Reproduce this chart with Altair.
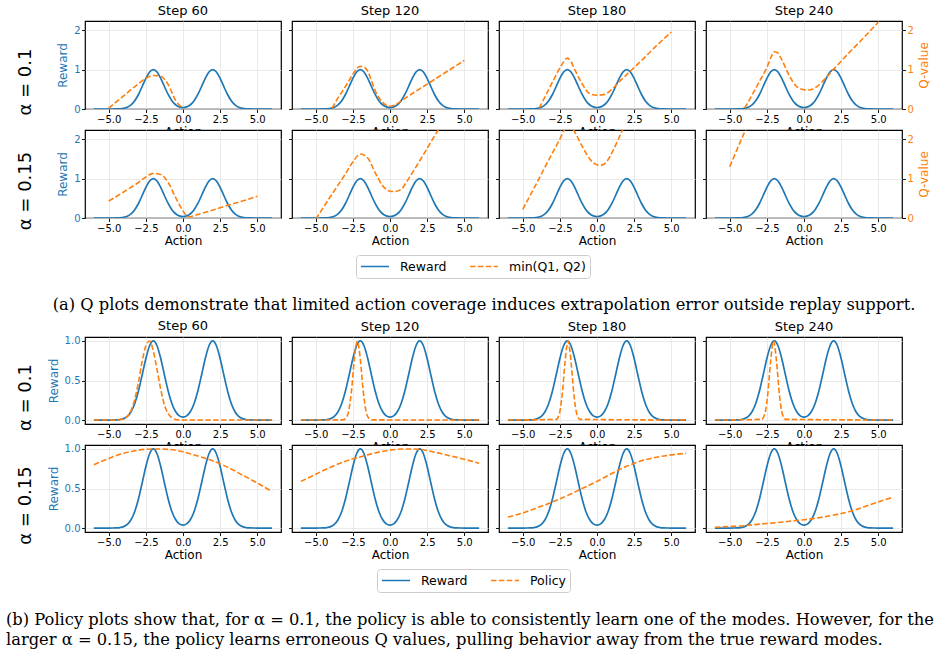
import altair as alt
import pandas as pd

# ---------------- data ----------------
steps = ["Step 60", "Step 120", "Step 180", "Step 240"]
alpha_labels = ["α = 0.1", "α = 0.15"]
legend_a = ["Reward", "min(Q1, Q2)"]
legend_b = ["Reward", "Policy"]
caption_a = ("(a) Q plots demonstrate that limited action coverage induces "
             "extrapolation error outside replay support.")
caption_b = ("(b) Policy plots show that, for α = 0.1, the policy is able to consistently "
             "learn one of the modes. However, for the\nlarger α = 0.15, the policy learns "
             "erroneous Q values, pulling behavior away from the true reward modes.")

x_ticks = [-5, -2.5, 0, 2.5, 5]
q_ticks = [0, 1, 2]
p_ticks = [0, 0.5, 1.0]

reward_x = [-6.0, -5.75, -5.5, -5.25, -5.0, -4.75, -4.5, -4.25,
            -4.0, -3.75, -3.5, -3.25, -3.0, -2.75, -2.5, -2.25,
            -2.0, -1.75, -1.5, -1.25, -1.0, -0.75, -0.5, -0.25,
            0.0,
            0.25, 0.5, 0.75, 1.0, 1.25, 1.5, 1.75, 2.0,
            2.25, 2.5, 2.75, 3.0, 3.25, 3.5, 3.75, 4.0,
            4.25, 4.5, 4.75, 5.0, 5.25, 5.5, 5.75, 6.0]
reward_y = [0, 0, 0, 0, 0.0001, 0.0005, 0.0019, 0.0063,
            0.0183, 0.0468, 0.1054, 0.2096, 0.3679, 0.5698, 0.7788, 0.9394,
            1.0, 0.9394, 0.7788, 0.5698, 0.368, 0.2101, 0.1073, 0.0531,
            0.0366,
            0.0531, 0.1073, 0.2101, 0.368, 0.5698, 0.7788, 0.9394, 1.0,
            0.9394, 0.7788, 0.5698, 0.3679, 0.2096, 0.1054, 0.0468, 0.0183,
            0.0063, 0.0019, 0.0005, 0.0001, 0, 0, 0, 0]

# Q curves, alpha = 0.1
q1_s60_x = [-5, -4.5, -4, -3.5, -3, -2.5, -2, -1.5, -1, -0.5, 0]
q1_s60_y = [0.02, 0.18, 0.33, 0.49, 0.64, 0.78, 0.85, 0.83, 0.62, 0.22, 0.02]
q1_s120_x = [-3.9, -3.5, -3, -2.5, -2.2, -2, -1.7, -1.5, -1.25, -1, -0.5, 0, 0.3, 1, 2, 3, 4, 5]
q1_s120_y = [0.02, 0.28, 0.57, 0.88, 1.04, 1.08, 1.05, 0.96, 0.72, 0.47, 0.17, 0.07, 0.1, 0.27, 0.51, 0.75, 0.99, 1.23]
q1_s180_x = [-3.9, -3.5, -3, -2.5, -2.2, -2, -1.75, -1.5, -1, -0.5, 0, 0.5, 1, 1.5, 2, 3, 4, 5]
q1_s180_y = [0.02, 0.31, 0.68, 1.04, 1.22, 1.29, 1.2, 1.0, 0.64, 0.39, 0.35, 0.37, 0.5, 0.69, 0.87, 1.23, 1.6, 1.95]
q1_s240_x = [-4, -3.5, -3, -2.5, -2.2, -2, -1.8, -1.5, -1, -0.5, 0, 0.3, 0.8, 1.5, 2, 3, 4, 5]
q1_s240_y = [0.02, 0.35, 0.7, 1.05, 1.33, 1.45, 1.43, 1.25, 0.85, 0.57, 0.49, 0.48, 0.55, 0.8, 1.01, 1.41, 1.8, 2.2]
# Q curves, alpha = 0.15
q2_s60_x = [-5, -4, -3, -2.5, -2, -1.5, -1, -0.5, 0, 0.35, 1, 2, 3, 4, 5]
q2_s60_y = [0.43, 0.66, 0.9, 1.04, 1.13, 1.1, 0.9, 0.52, 0.18, 0.03, 0.09, 0.2, 0.32, 0.43, 0.55]
q2_s120_x = [-5, -4, -3, -2.5, -2, -1.5, -1, -0.5, 0, 0.3, 0.8, 1, 2, 3, 4, 5]
q2_s120_y = [-0.03, 0.55, 1.12, 1.42, 1.62, 1.52, 1.15, 0.82, 0.68, 0.67, 0.74, 0.85, 1.45, 2.08, 2.7, 3.3]
q2_s180_x = [-5, -4, -3, -2.5, -2.25, -2, -1.75, -1.5, -1, -0.5, 0, 0.3, 0.7, 1, 1.5, 2, 3]
q2_s180_y = [0.22, 0.93, 1.65, 2.0, 2.2, 2.35, 2.32, 2.18, 1.82, 1.5, 1.35, 1.34, 1.45, 1.65, 2.05, 2.45, 3.2]
q2_s240_x = [-5, -4, -3]
q2_s240_y = [1.3, 2.18, 3.0]

# Policy curves, alpha = 0.1
p1_s60_x = [-6, -4.5, -4, -3.75, -3.5, -3.25, -3, -2.75, -2.5, -2.25, -2, -1.75, -1.5, -1.25, -1, -0.75, -0.5, -0.25, 0, 6]
p1_s60_y = [0, 0.001, 0.014, 0.044, 0.118, 0.26, 0.48, 0.74, 0.94, 1.0, 0.875, 0.64, 0.39, 0.19, 0.08, 0.028, 0.008, 0.002, 0, 0]
p1_s120_x = [-6, -3.2, -3.0, -2.8, -2.6, -2.4, -2.2, -2.0, -1.8, -1.6, -1.4, -1.2, 6]
p1_s120_y = [0, 0.002, 0.017, 0.10, 0.36, 0.77, 1.0, 0.77, 0.36, 0.10, 0.017, 0.002, 0]
p1_s180_x = [-6, -2.75, -2.55, -2.35, -2.15, -1.95, -1.75, -1.55, -1.35, -1.15, 6]
p1_s180_y = [0, 0.009, 0.07, 0.31, 0.74, 1.0, 0.74, 0.31, 0.07, 0.009, 0]
p1_s240_x = [-6, -2.85, -2.65, -2.45, -2.25, -2.05, -1.85, -1.65, -1.45, -1.25, 6]
p1_s240_y = [0, 0.009, 0.07, 0.31, 0.74, 1.0, 0.74, 0.31, 0.07, 0.009, 0]
# Policy curves, alpha = 0.15
p2_s60_x = [-6, -5, -4, -3, -2, -1.5, -1, 0, 1, 2, 3, 4, 5, 6]
p2_s60_y = [0.80, 0.88, 0.945, 0.985, 1.0, 1.0, 0.995, 0.965, 0.91, 0.85, 0.77, 0.67, 0.57, 0.46]
p2_s120_x = [-6, -5, -4, -3, -2, -1, 0, 1, 1.5, 2, 3, 4, 5, 6]
p2_s120_y = [0.59, 0.68, 0.77, 0.845, 0.9, 0.95, 0.985, 1.0, 1.0, 0.995, 0.96, 0.915, 0.87, 0.82]
p2_s180_x = [-6, -5, -4, -3, -2, -1, 0, 1, 2, 3, 4, 5, 6]
p2_s180_y = [0.14, 0.19, 0.26, 0.33, 0.41, 0.5, 0.59, 0.69, 0.78, 0.85, 0.895, 0.925, 0.945]
p2_s240_x = [-6, -5, -4, -3, -2, -1, 0, 1, 2, 3, 4, 5, 6]
p2_s240_y = [0.01, 0.02, 0.03, 0.05, 0.065, 0.085, 0.105, 0.13, 0.165, 0.205, 0.265, 0.33, 0.39]

q_rows = [[(q1_s60_x, q1_s60_y), (q1_s120_x, q1_s120_y), (q1_s180_x, q1_s180_y), (q1_s240_x, q1_s240_y)],
          [(q2_s60_x, q2_s60_y), (q2_s120_x, q2_s120_y), (q2_s180_x, q2_s180_y), (q2_s240_x, q2_s240_y)]]
p_rows = [[(p1_s60_x, p1_s60_y), (p1_s120_x, p1_s120_y), (p1_s180_x, p1_s180_y), (p1_s240_x, p1_s240_y)],
          [(p2_s60_x, p2_s60_y), (p2_s120_x, p2_s120_y), (p2_s180_x, p2_s180_y), (p2_s240_x, p2_s240_y)]]

# ---------------- styling ----------------
BLUE, ORANGE = "#1f77b4", "#ff7f0e"
FONT = "DejaVu Sans"
SERIF = "DejaVu Serif"
W = 196
H_TOP, H_BOT = 88, 87
H_GAP_A, H_GAP_B = 77, 104
DASH = [5.5, 2.4]
CLEAR = alt.ViewBackground(stroke="transparent", fill="transparent")


def panel(kind, row, col, cx, cy):
    if kind == "q":
        ydom, yvals, yfmt, h = [0, 2.23], q_ticks, "d", H_TOP
    else:
        ydom, yvals, yfmt, h = [-0.05, 1.05], p_ticks, ".1f", H_BOT
    xscale = alt.Scale(domain=[-6.6, 6.6], nice=False, zero=False)
    yscale = alt.Scale(domain=ydom, nice=False, zero=False)
    xaxis = alt.Axis(values=x_ticks, format=".1f", title="Action",
                     labelPadding=1.5, titlePadding=2)
    ykw = dict(values=yvals, format=yfmt, labelColor=BLUE, titleColor=BLUE,
               labelPadding=1.5, titlePadding=4)
    if col == 0:
        yaxis = alt.Axis(title="Reward", **ykw)
    else:
        yaxis = alt.Axis(title=None, labels=False, **ykw)
    rdf = pd.DataFrame({"x": reward_x, "y": reward_y})
    odf = pd.DataFrame({"x": cx, "y": cy})
    reward = alt.Chart(rdf).mark_line(color=BLUE, strokeWidth=1.7, interpolate="monotone",
                                      clip=True).encode(
        x=alt.X("x:Q", scale=xscale, axis=xaxis),
        y=alt.Y("y:Q", scale=yscale, axis=yaxis))
    right = kind == "q" and col == 3
    if right:
        oy = alt.Y("y:Q", scale=yscale,
                   axis=alt.Axis(orient="right", values=yvals, format="d", title="Q-value",
                                 labelColor=ORANGE, titleColor=ORANGE, titleAngle=270,
                                 titleBaseline="top", grid=False, labelPadding=1.5,
                                 titlePadding=5))
    else:
        oy = alt.Y("y:Q", scale=yscale, axis=yaxis)
    other = alt.Chart(odf).mark_line(color=ORANGE, strokeWidth=1.6, strokeDash=DASH,
                                     interpolate="monotone", clip=True).encode(
        x=alt.X("x:Q", scale=xscale, axis=xaxis), y=oy)
    layers = [reward, other]
    if col == 0:
        lab = alt.Chart(pd.DataFrame({"t": [alpha_labels[row]]})).mark_text(
            angle=270, font=FONT, fontSize=18, align="center", baseline="middle").encode(
            text="t:N", x=alt.value(-59), y=alt.value(h / 2 + 17))
        layers.append(lab)
    ch = alt.layer(*layers)
    if right:
        ch = ch.resolve_scale(y="independent")
    props = dict(width=W, height=h)
    if row == 0:
        props["title"] = steps[col]
    return ch.properties(**props)


def spacer(h):
    return alt.Chart(pd.DataFrame({"a": [0]})).mark_point(opacity=0).properties(
        width=W, height=h, view=CLEAR)


def legend_cell(labels, h, lx, ly, caption, tx, ty, align):
    leg = alt.Legend(title=None, orient="none", legendX=lx, legendY=ly, direction="horizontal",
                     symbolType="stroke", symbolSize=784, symbolStrokeWidth=1.6,
                     symbolOpacity=1, clipHeight=15, labelFont=FONT, labelFontSize=12.5,
                     labelColor="black", labelOffset=10, columnPadding=22, padding=4,
                     strokeColor="#cccccc", fillColor="white", cornerRadius=3)
    ldf = pd.DataFrame({"series": labels})
    lines = alt.Chart(ldf).mark_line(strokeWidth=0).encode(
        x=alt.value(0), y=alt.value(0),
        color=alt.Color("series:N", scale=alt.Scale(domain=labels, range=[BLUE, ORANGE]),
                        legend=leg),
        strokeDash=alt.StrokeDash("series:N",
                                  scale=alt.Scale(domain=labels, range=[[1, 0], DASH]),
                                  legend=leg))
    cap = alt.Chart(pd.DataFrame({"t": [caption]})).mark_text(
        font=SERIF, fontSize=16.3, align=align, baseline="alphabetic", lineBreak="\n",
        lineHeight=19.5, color="black").encode(
        text="t:N", x=alt.value(tx), y=alt.value(ty))
    return alt.layer(lines, cap).properties(width=W, height=h, view=CLEAR)


cells = []
for r in range(2):
    for c in range(4):
        cells.append(panel("q", r, c, *q_rows[r][c]))
cells.append(legend_cell(legend_a, H_GAP_A, 271, 16, caption_a, 399, 71, "center"))
cells += [spacer(H_GAP_A) for _ in range(3)]
for r in range(2):
    for c in range(4):
        cells.append(panel("p", r, c, *p_rows[r][c]))
cells.append(legend_cell(legend_b, H_GAP_B, 292, 16, caption_b, -79, 72, "left"))
cells += [spacer(H_GAP_B) for _ in range(3)]

chart = alt.concat(*cells, columns=4, spacing={"row": 21, "column": 11},
                   bounds="flush").resolve_scale(
    color="independent", strokeDash="independent"
).properties(
    padding={"left": 5, "top": 4, "right": 0, "bottom": 0}
).configure(background="white").configure_view(
    stroke="black", strokeWidth=1.2, fill="white"
).configure_axis(
    grid=True, gridColor="#e4e4e4", gridWidth=0.8, domain=False, ticks=True,
    tickColor="black", tickSize=3.5, tickWidth=0.9, labelFont=FONT, labelFontSize=10,
    labelColor="black", titleFont=FONT, titleFontSize=12, titleFontWeight="normal",
    titleColor="black", labelFlush=False, labelOverlap=False
).configure_title(
    font=FONT, fontSize=13, fontWeight="normal", color="black", offset=3, anchor="middle"
)

chart.save("out.html", embed_options={"renderer": "svg", "actions": False})
